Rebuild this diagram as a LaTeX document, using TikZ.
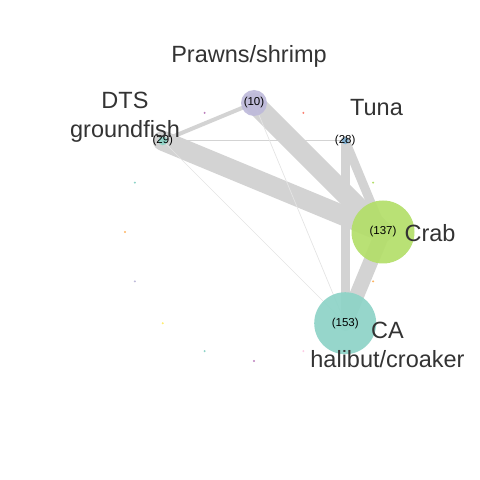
\documentclass[tikz,border=0pt]{standalone}
\usepackage{fontspec}
\setmainfont{Liberation Sans}
\usepackage{tikz}
\usetikzlibrary{calc, backgrounds}
\definecolor{linkgray}{HTML}{D3D3D3}
\definecolor{faintgray}{HTML}{E4E4E4}
\definecolor{labelgray}{HTML}{333333}
\definecolor{crabgreen}{HTML}{B3DE69}
\definecolor{teal}{HTML}{8DD3C7}
\definecolor{tunablue}{HTML}{80B1D3}
\definecolor{lavender}{HTML}{BEBADA}
\definecolor{dotred}{HTML}{FB8072}
\definecolor{dotorange}{HTML}{FDB462}
\definecolor{dotpink}{HTML}{FCCDE5}
\definecolor{dotpurple}{HTML}{BC80BD}
\definecolor{dotyellow}{HTML}{FFED6F}

\begin{document}
\begin{tikzpicture}[x=1pt, y=1pt,
    vert/.style={circle, inner sep=0pt, fill opacity=0.92},
    count/.style={text=black, inner sep=0pt, font=\fontsize{11.5}{13}\selectfont},
    lbl/.style={text=labelgray, font=\fontsize{23.5}{29.5}\selectfont, align=center},
    link/.style={draw=linkgray, line cap=round}]
        \useasboundingbox (0,0) rectangle (480,480);
        \coordinate (mid) at (254,248);

        % Sommets
        \node[vert, fill=lavender, minimum size=26pt, label={[count]center:(10)}] (prawns) at ($(mid)+(90:129)$) {};
        \node[vert, fill=tunablue, minimum size=7pt, label={[count]center:(28)}] (tuna) at ($(mid)+(45:129)$) {};
        \node[vert, fill=crabgreen, minimum size=63pt, label={[count]center:(137)}] (crab) at ($(mid)+(0:129)$) {};
        \node[vert, fill=teal, minimum size=62pt, label={[count]center:(153)}] (ca) at ($(mid)+(-45:129)$) {};
        \node[vert, fill=teal, minimum size=9pt, label={[count]center:(29)}] (dts) at ($(mid)+(135:129)$) {};

        % Sommets isoles
        \foreach \a/\c in {67.5/dotred, 22.5/crabgreen, -22.5/dotorange, -67.5/dotpink,
            -90/dotpurple, -112.5/teal, -135/dotyellow, -157.5/lavender,
            180/dotorange, 157.5/teal, 112.5/dotpurple}
            \fill[\c] ($(mid)+(\a:129)$) circle (1.1pt);

        % Aretes
        \begin{scope}[on background layer]
            \draw[link, line width=20pt] (dts.center) -- (crab.center);
            \draw[link, line width=20pt] (prawns.center) -- (crab.center);
            \draw[link, line width=15pt] (crab.center) -- (ca.center);
            \draw[link, line width=9pt] (tuna.center) -- (ca.center);
            \draw[link, line width=9pt] (tuna.center) -- (crab.center);
            \draw[link, line width=4pt] (prawns.center) -- (dts.center);
            \draw[link, line width=1.2pt] (dts.center) -- (tuna.center);
            \draw[draw=faintgray, line width=0.7pt] (prawns.center) -- (ca.center);
            \draw[draw=faintgray, line width=0.6pt] (dts.center) -- (ca.center);
        \end{scope}

        % Etiquettes
        \node[lbl, anchor=base] (prawnslbl) at (249,417) {Prawns/shrimp};
        \node[lbl, anchor=base] (tunalbl) at (376.5,364) {Tuna};
        \node[lbl, anchor=base] (crablbl) at (430,238) {Crab};
        \node[lbl] (dtslbl) at (125,363) {DTS\\groundfish};
        \node[lbl] (calbl) at (387.5,135) {CA\\halibut/croaker};
    \end{tikzpicture}
\end{document}
